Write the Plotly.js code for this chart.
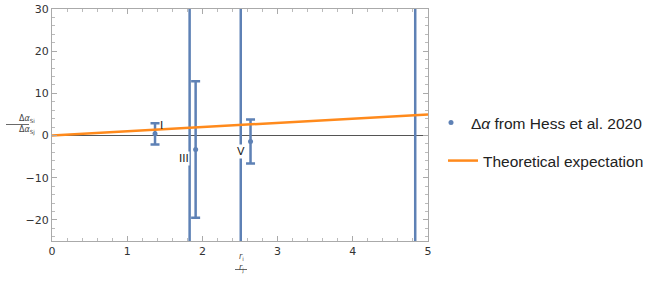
<!DOCTYPE html>
<html>
<head>
<meta charset="utf-8">
<script src="https://cdn.plot.ly/plotly-3.0.1.min.js"></script>
<style>html,body{margin:0;padding:0;background:#fff;}#chart{width:655px;height:287px;}</style>
</head>
<body>
<div id="chart"></div>
<script>
// Measured ratios r_i/r_j and Δα ratios (Hess et al. 2020)
const ratioX = [1.37, 1.83, 1.91, 2.51, 2.64, 4.83];
const deltaAlpha = [0.4, -40, -3.3, 45, -1.4, 60];
const deltaAlphaErr = [2.5, 120, 16.2, 120, 5.2, 150];
// Theoretical expectation (y = x)
const theoryX = [0, 5];
const theoryY = [0, 5];
// Point labels
const labelText = ["I", "III", "V"];
const labelX = [1.46, 1.76, 2.51];
const labelY = [2.4, -5.5, -3.7];
// Axis ticks
const xTicks = [0, 1, 2, 3, 4, 5];
const yTicks = [-20, -10, 0, 10, 20, 30];
const yTickText = ["\u221220", "\u221210", "0", "10", "20", "30"];

const blue = "#5E81B5";
const orange = "#FF8A1C";

const traces = [
  {
    x: ratioX, y: deltaAlpha, type: "scatter", mode: "markers",
    name: "\u0394<i>\u03b1</i> from Hess et al. 2020",
    marker: {color: blue, size: 5},
    error_y: {type: "data", array: deltaAlphaErr, visible: true, color: blue, thickness: 2.5, width: 4.5},
    legend: "legend"
  },
  {
    x: theoryX, y: theoryY, type: "scatter", mode: "lines",
    name: "Theoretical expectation",
    line: {color: orange, width: 2.5},
    legend: "legend2"
  }
];

const px2x = p => (p - 52) / 376;
const px2y = p => (241 - p) / 232;

const annotations = labelText.map((t, i) => ({
  x: labelX[i], y: labelY[i], xref: "x", yref: "y", text: t, showarrow: false,
  font: {family: "DejaVu Sans", size: 11, color: "#222"},
  bgcolor: i === 0 ? "rgba(0,0,0,0)" : "#fff", borderpad: 0
}));
const smallFont = {family: "DejaVu Sans", size: 8, color: "#444"};
annotations.push(
  {x: px2x(17), y: px2y(119), xref: "paper", yref: "paper", text: "\u0394<i>\u03b1</i><sub>Si</sub>", showarrow: false, font: smallFont},
  {x: px2x(17), y: px2y(130.5), xref: "paper", yref: "paper", text: "\u0394<i>\u03b1</i><sub>Sj</sub>", showarrow: false, font: smallFont},
  {x: px2x(241), y: px2y(264), xref: "paper", yref: "paper", text: "<i>r</i><sub>i</sub>", showarrow: false, font: smallFont},
  {x: px2x(241), y: px2y(275.5), xref: "paper", yref: "paper", text: "<i>r</i><sub>j</sub>", showarrow: false, font: smallFont}
);

const shapes = [
  {type: "line", xref: "paper", yref: "paper", x0: px2x(6), x1: px2x(29), y0: px2y(124.5), y1: px2y(124.5), line: {color: "#444", width: 0.8}},
  {type: "line", xref: "paper", yref: "paper", x0: px2x(235), x1: px2x(247), y0: px2y(269.5), y1: px2y(269.5), line: {color: "#444", width: 0.8}}
];

const axisCommon = {
  showgrid: false, ticks: "inside", mirror: "ticks", showline: true,
  linecolor: "#aaaaaa", linewidth: 1, tickcolor: "#aaaaaa", ticklen: 5, tickwidth: 1,
  tickfont: {family: "DejaVu Sans", size: 11, color: "#333"}
};

const layout = {
  width: 655, height: 287,
  margin: {l: 52, r: 227, t: 9, b: 46, autoexpand: false},
  paper_bgcolor: "#fff", plot_bgcolor: "#fff",
  showlegend: true,
  xaxis: Object.assign({}, axisCommon, {
    range: [0, 5], tickvals: xTicks, zeroline: false, automargin: false,
    minor: {dtick: 0.2, ticks: "inside", ticklen: 3, tickcolor: "#bbbbbb", showgrid: false}
  }),
  yaxis: Object.assign({}, axisCommon, {
    range: [-25, 30], tickvals: yTicks, ticktext: yTickText, automargin: false,
    zeroline: true, zerolinecolor: "#555", zerolinewidth: 1,
    minor: {dtick: 2, ticks: "inside", ticklen: 3, tickcolor: "#bbbbbb", showgrid: false}
  }),
  legend: {x: px2x(431), y: px2y(123), xanchor: "left", yanchor: "middle", xref: "paper", yref: "paper",
    font: {family: "Liberation Sans", size: 15.5, color: "#222"}, bgcolor: "rgba(0,0,0,0)", itemwidth: 30},
  legend2: {x: px2x(443), y: px2y(161), xanchor: "left", yanchor: "middle", xref: "paper", yref: "paper",
    font: {family: "Liberation Sans", size: 15.5, color: "#222"}, bgcolor: "rgba(0,0,0,0)", itemwidth: 30},
  annotations: annotations,
  shapes: shapes
};

Plotly.newPlot("chart", traces, layout, {displayModeBar: false, staticPlot: true});
</script>
</body>
</html>
